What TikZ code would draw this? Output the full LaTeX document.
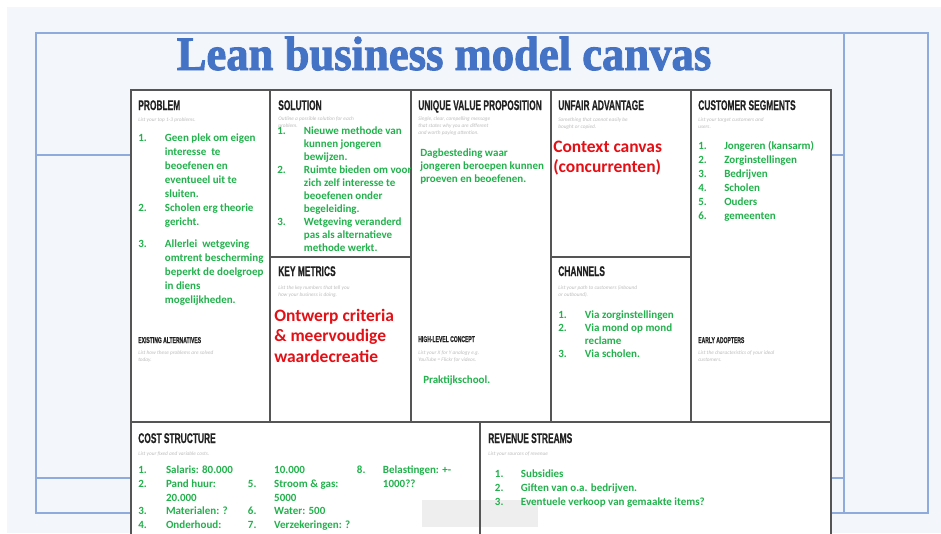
\documentclass[tikz,border=0pt]{standalone}
\usepackage{fontspec}
\setmainfont{Carlito}
\newfontfamily\titlefont[BoldFeatures={FakeBold=2}]{Liberation Serif}
\newfontfamily\headfont[BoldFeatures={FakeBold=0.6}]{Liberation Sans}
\usepackage{tikz}

\definecolor{slidebg}{HTML}{F3F6FB}
\definecolor{frameblue}{HTML}{8FAADC}
\definecolor{titleblue}{HTML}{4472C4}
\definecolor{gridgray}{HTML}{555555}
\definecolor{headgray}{HTML}{222222}
\definecolor{hintgray}{HTML}{BDBDBD}
\definecolor{patchgray}{HTML}{EEEEEE}
\definecolor{itemgreen}{RGB}{34,177,76}
\definecolor{notered}{RGB}{228,16,22}

% narrow caps for the block titles
\newcommand{\hd}[1]{\scalebox{0.6}[1]{#1}}
% stacked lines, first baseline on the node's base
\newcommand{\rows}[1]{\begin{tabular}[t]{@{}l@{}}#1\end{tabular}}
% numbered list: number column, then the text
\newcommand{\nlist}[2]{\begin{tabular}[t]{@{}p{#1}@{}l@{}}#2\end{tabular}}

\begin{document}
\begin{tikzpicture}[x=0.75pt, y=-0.75pt,
  frame/.style={draw=frameblue, line width=1.1pt},
  grid/.style={draw=gridgray, line width=1pt},
  head/.style={anchor=base west, inner sep=0pt, text=headgray,
    font=\headfont\bfseries\fontsize{10.5}{10.5}\selectfont},
  subhead/.style={head, font=\headfont\bfseries\fontsize{6.3}{6.3}\selectfont},
  hint/.style={anchor=base west, inner sep=0pt, text=hintgray,
    font=\itshape\fontsize{4}{5.6}\selectfont},
  item/.style={anchor=base west, inner sep=0pt, text=itemgreen,
    font=\bfseries\fontsize{8.25}{10.5}\selectfont},
  itemtight/.style={item, font=\bfseries\fontsize{8.25}{9.75}\selectfont},
  note/.style={anchor=base west, inner sep=0pt, text=notered,
    font=\bfseries\fontsize{13.1}{15.6}\selectfont}]
  \useasboundingbox (0,0) rectangle (941,533);

  % slide background and blue frame
  \fill[white] (0,0) rectangle (941,533);
  \fill[slidebg] (7,7) rectangle (941,533);
  \draw[frame] (36,33) rectangle (928,513);
  \draw[frame] (844,33) -- (844,513);
  \draw[frame] (36,155) -- (844,155);
  \draw[frame] (36,478) -- (844,478);

  \node[anchor=base, inner sep=0pt, text=titleblue,
    font=\titlefont\bfseries\fontsize{36}{36}\selectfont] (title) at (444,70)
    {\scalebox{0.93}[1]{Lean business model canvas}};

  % canvas sheet
  \fill[white] (131,90) rectangle (831,545);
  \fill[patchgray] (422,500) rectangle (538,527);
  \draw[grid] (131,90) rectangle (831,545);
  \draw[grid, line width=1.4pt] (131,90) -- (831,90);
  \foreach \x in {270,411,551,691}
    \draw[grid] (\x,90) -- (\x,422);
  \draw[grid] (270,257) -- (411,257);
  \draw[grid] (551,257) -- (691,257);
  \draw[grid] (131,422) -- (831,422);
  \draw[grid] (480,422) -- (480,545);

  % Problem
  \node[head] (problem) at (138,110) {\hd{PROBLEM}};
  \node[hint] (problemhint) at (138,121) {List your top 1-3 problems.};
  \node[item] (problemlist) at (138,141) {\nlist{20pt}{%
    1. & Geen plek om eigen\\ & interesse\ \ te\\ & beoefenen en\\
       & eventueel uit te\\ & sluiten.\\
    2. & Scholen erg theorie\\ & gericht.\\[6.2pt]
    3. & Allerlei\ \ wetgeving\\ & omtrent bescherming\\
       & beperkt de doelgroep\\ & in diens\\ & mogelijkheden.}};
  \node[subhead] (existing) at (138,343) {\hd{EXISTING ALTERNATIVES}};
  \node[hint] (existinghint) at (138,354) {\rows{List how these problems are solved\\today.}};

  % Solution
  \node[head] (solution) at (278,110) {\hd{SOLUTION}};
  \node[hint] (solutionhint) at (278,120) {\rows{Outline a possible solution for each\\problem.}};
  \node[itemtight] (solutionlist) at (277,134) {\nlist{20pt}{%
    1. & Nieuwe methode van\\ & kunnen jongeren\\ & bewijzen.\\
    2. & Ruimte bieden om voor\\ & zich zelf interesse te\\
       & beoefenen onder\\ & begeleiding.\\
    3. & Wetgeving veranderd\\ & pas als alternatieve\\ & methode werkt.}};

  % Key metrics
  \node[head] (metrics) at (278,276) {\hd{KEY METRICS}};
  \node[hint] (metricshint) at (278,289) {\rows{List the key numbers that tell you\\how your business is doing.}};
  \node[note] (metricsnote) at (274,321) {\rows{Ontwerp criteria\\\& meervoudige\\waardecreatie}};

  % Unique value proposition
  \node[head] (uvp) at (418,110) {\hd{UNIQUE VALUE PROPOSITION}};
  \node[hint] (uvphint) at (418,120) {\rows{Single, clear, compelling message\\
    that states why you are different\\and worth paying attention.}};
  \node[itemtight] (uvptext) at (420,156) {\rows{Dagbesteding waar\\
    jongeren beroepen kunnen\\proeven en beoefenen.}};
  \node[subhead] (concept) at (418,342) {\hd{HIGH-LEVEL CONCEPT}};
  \node[hint] (concepthint) at (418,354) {\rows{List your X for Y analogy e.g.\\YouTube = Flickr for videos.}};
  \node[item] (concepttext) at (423,383) {Praktijkschool.};

  % Unfair advantage
  \node[head] (unfair) at (558,110) {\hd{UNFAIR ADVANTAGE}};
  \node[hint] (unfairhint) at (558,121) {\rows{Something that cannot easily be\\bought or copied.}};
  \node[note] (unfairnote) at (553,152) {\rows{Context canvas\\(concurrenten)}};

  % Channels
  \node[head] (channels) at (558,276) {\hd{CHANNELS}};
  \node[hint] (channelshint) at (558,289) {\rows{List your path to customers (inbound\\or outbound).}};
  \node[itemtight] (channelslist) at (558,318) {\nlist{20pt}{%
    1. & Via zorginstellingen\\
    2. & Via mond op mond\\ & reclame\\
    3. & Via scholen.}};

  % Customer segments
  \node[head] (segments) at (698,110) {\hd{CUSTOMER SEGMENTS}};
  \node[hint] (segmentshint) at (698,121) {\rows{List your target customers and\\users.}};
  \node[item] (segmentslist) at (698,149) {\nlist{19.5pt}{%
    1. & Jongeren (kansarm)\\ 2. & Zorginstellingen\\ 3. & Bedrijven\\
    4. & Scholen\\ 5. & Ouders\\ 6. & gemeenten}};
  \node[subhead] (adopters) at (698,343) {\hd{EARLY ADOPTERS}};
  \node[hint] (adoptershint) at (698,354) {\rows{List the characteristics of your ideal\\customers.}};

  % Cost structure
  \node[head] (cost) at (138,443) {\hd{COST STRUCTURE}};
  \node[hint] (costhint) at (138,455) {List your fixed and variable costs.};
  \node[item, font=\bfseries\fontsize{8.25}{10.35}\selectfont] (costa) at (138,473.5) {\nlist{20.8pt}{%
    1. & Salaris: 80.000\\ 2. & Pand huur:\\ & 20.000\\
    3. & Materialen: ?\\ 4. & Onderhoud:}};
  \node[item, font=\bfseries\fontsize{8.25}{10.35}\selectfont] (costb) at (247.7,473.5) {\nlist{19.7pt}{%
    & 10.000\\ 5. & Stroom \& gas:\\ & 5000\\
    6. & Water: 500\\ 7. & Verzekeringen: ?}};
  \node[item, font=\bfseries\fontsize{8.25}{10.35}\selectfont] (costc) at (356.7,473.5) {\nlist{19.5pt}{%
    8. & Belastingen: +-\\ & 1000??}};

  % Revenue streams
  \node[head] (revenue) at (488,443) {\hd{REVENUE STREAMS}};
  \node[hint] (revenuehint) at (488,455) {List your sources of revenue};
  \node[item] (revenuelist) at (494.7,477.5) {\nlist{19.5pt}{%
    1. & Subsidies\\ 2. & Giften van o.a. bedrijven.\\
    3. & Eventuele verkoop van gemaakte items?}};
\end{tikzpicture}
\end{document}
